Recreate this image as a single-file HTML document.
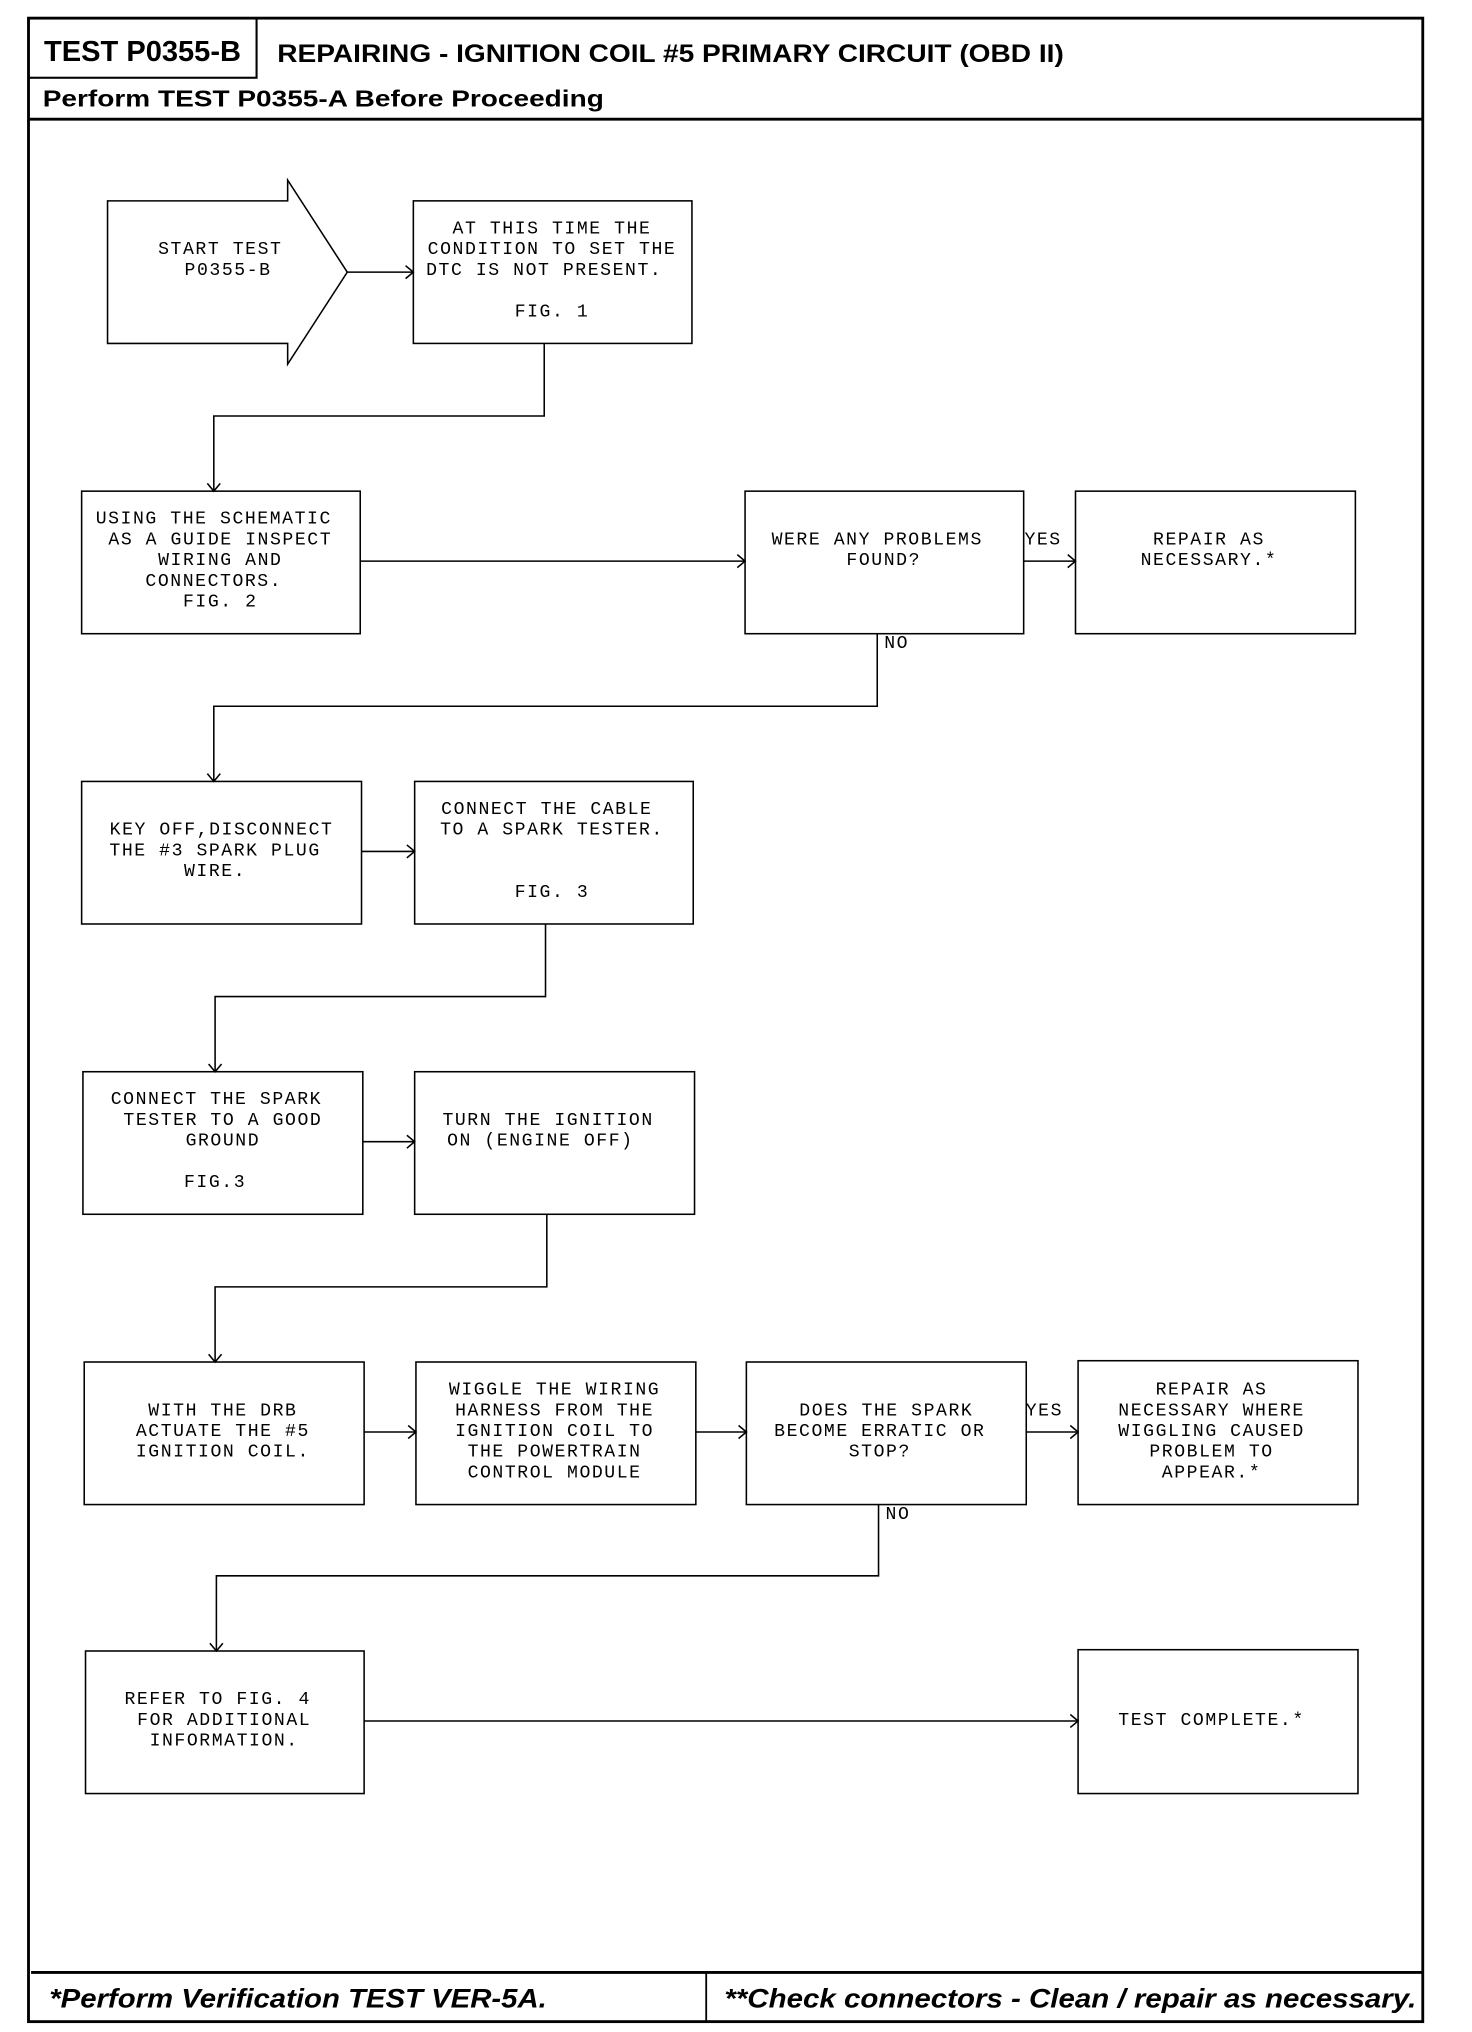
<!DOCTYPE html>
<html><head><meta charset="utf-8"><style>
html,body{margin:0;padding:0;background:#fff;}
svg{display:block;}
.m{font-family:"Liberation Mono","DejaVu Sans Mono",monospace;font-size:14px;letter-spacing:1.2px;text-anchor:middle;dominant-baseline:central;fill:#000;}
.h{font-family:"Liberation Sans",Arial,sans-serif;font-weight:bold;fill:#000;}
</style></head><body>
<svg width="1472" height="2032" viewBox="0 0 1136 1568" preserveAspectRatio="none" xmlns="http://www.w3.org/2000/svg">
<rect width="1136" height="1568" fill="#fff"/>
<g fill="none" stroke="#000">
<rect x="22" y="14" width="1076" height="1546" stroke-width="2.2"/>
<line x1="22" y1="92" x2="1098" y2="92" stroke-width="2.2"/>
<rect x="22" y="14" width="176" height="46" stroke-width="1.6"/>
<line x1="24" y1="1522" x2="1098" y2="1522" stroke-width="2.2"/>
<line x1="545" y1="1522" x2="545" y2="1560" stroke-width="1.4"/>
<g stroke-width="1.2">
<polygon points="83,155 222,155 222,139 268,210 222,281 222,265 83,265"/>
<rect x="319" y="155" width="215" height="110"/>
<rect x="63" y="379" width="215" height="110"/>
<rect x="575" y="379" width="215" height="110"/>
<rect x="830" y="379" width="216" height="110"/>
<rect x="63" y="603" width="216" height="110"/>
<rect x="320" y="603" width="215" height="110"/>
<rect x="64" y="827" width="216" height="110"/>
<rect x="320" y="827" width="216" height="110"/>
<rect x="65" y="1051" width="216" height="110"/>
<rect x="321" y="1051" width="216" height="110"/>
<rect x="576" y="1051" width="216" height="110"/>
<rect x="832" y="1050" width="216" height="111"/>
<rect x="66" y="1274" width="215" height="110"/>
<rect x="832" y="1273" width="216" height="111"/>
<polyline points="268,210 319,210"/><polyline points="313,205 319,210 313,215"/>
<polyline points="420,265 420,321 165,321 165,379"/><polyline points="160,373 165,379 170,373"/>
<polyline points="278,433 575,433"/><polyline points="569,428 575,433 569,438"/>
<polyline points="790,433 830,433"/><polyline points="824,428 830,433 824,438"/>
<polyline points="677,489 677,545 165,545 165,603"/><polyline points="160,597 165,603 170,597"/>
<polyline points="279,657 320,657"/><polyline points="314,652 320,657 314,662"/>
<polyline points="421,713 421,769 166,769 166,827"/><polyline points="161,821 166,827 171,821"/>
<polyline points="280,881 320,881"/><polyline points="314,876 320,881 314,886"/>
<polyline points="422,937 422,993 166,993 166,1051"/><polyline points="161,1045 166,1051 171,1045"/>
<polyline points="281,1105 321,1105"/><polyline points="315,1100 321,1105 315,1110"/>
<polyline points="537,1105 576,1105"/><polyline points="570,1100 576,1105 570,1110"/>
<polyline points="792,1105 832,1105"/><polyline points="826,1100 832,1105 826,1110"/>
<polyline points="678,1161 678,1216 167,1216 167,1274"/><polyline points="162,1268 167,1274 172,1268"/>
<polyline points="281,1328 832,1328"/><polyline points="826,1323 832,1328 826,1333"/>
</g>
</g>
<text class="h" x="34" y="47" font-size="22" textLength="152" lengthAdjust="spacingAndGlyphs">TEST P0355-B</text>
<text class="h" x="214" y="48" font-size="19" textLength="607" lengthAdjust="spacingAndGlyphs">REPAIRING - IGNITION COIL #5 PRIMARY CIRCUIT (OBD II)</text>
<text class="h" x="33" y="82" font-size="18" textLength="433" lengthAdjust="spacingAndGlyphs">Perform TEST P0355-A Before Proceeding</text>
<text class="h" x="38" y="1549" font-size="21" font-style="italic" textLength="384" lengthAdjust="spacingAndGlyphs">*Perform Verification TEST VER-5A.</text>
<text class="h" x="559" y="1549" font-size="21" font-style="italic" textLength="534" lengthAdjust="spacingAndGlyphs">**Check connectors - Clean / repair as necessary.</text>
<text class="m" x="170" y="193">START TEST</text>
<text class="m" x="176" y="209">P0355-B</text>
<text class="m" x="426" y="177">AT THIS TIME THE</text>
<text class="m" x="426" y="193">CONDITION TO SET THE</text>
<text class="m" x="420" y="209">DTC IS NOT PRESENT.</text>
<text class="m" x="426" y="241">FIG. 1</text>
<text class="m" x="165" y="401">USING THE SCHEMATIC</text>
<text class="m" x="170" y="417">AS A GUIDE INSPECT</text>
<text class="m" x="170" y="433">WIRING AND</text>
<text class="m" x="165" y="449">CONNECTORS.</text>
<text class="m" x="170" y="465">FIG. 2</text>
<text class="m" x="677" y="417">WERE ANY PROBLEMS</text>
<text class="m" x="682" y="433">FOUND?</text>
<text class="m" x="805" y="417">YES</text>
<text class="m" x="933" y="417">REPAIR AS</text>
<text class="m" x="933" y="433">NECESSARY.*</text>
<text class="m" x="692" y="497">NO</text>
<text class="m" x="171" y="641">KEY OFF,DISCONNECT</text>
<text class="m" x="166" y="657">THE #3 SPARK PLUG</text>
<text class="m" x="166" y="673">WIRE.</text>
<text class="m" x="422" y="625">CONNECT THE CABLE</text>
<text class="m" x="426" y="641">TO A SPARK TESTER.</text>
<text class="m" x="426" y="689">FIG. 3</text>
<text class="m" x="167" y="849">CONNECT THE SPARK</text>
<text class="m" x="172" y="865">TESTER TO A GOOD</text>
<text class="m" x="172" y="881">GROUND</text>
<text class="m" x="166" y="913">FIG.3</text>
<text class="m" x="423" y="865">TURN THE IGNITION</text>
<text class="m" x="417" y="881">ON (ENGINE OFF)</text>
<text class="m" x="172" y="1089">WITH THE DRB</text>
<text class="m" x="172" y="1105">ACTUATE THE #5</text>
<text class="m" x="172" y="1121">IGNITION COIL.</text>
<text class="m" x="428" y="1073">WIGGLE THE WIRING</text>
<text class="m" x="428" y="1089">HARNESS FROM THE</text>
<text class="m" x="428" y="1105">IGNITION COIL TO</text>
<text class="m" x="428" y="1121">THE POWERTRAIN</text>
<text class="m" x="428" y="1137">CONTROL MODULE</text>
<text class="m" x="684" y="1089">DOES THE SPARK</text>
<text class="m" x="679" y="1105">BECOME ERRATIC OR</text>
<text class="m" x="679" y="1121">STOP?</text>
<text class="m" x="806" y="1089">YES</text>
<text class="m" x="935" y="1073">REPAIR AS</text>
<text class="m" x="935" y="1089">NECESSARY WHERE</text>
<text class="m" x="935" y="1105">WIGGLING CAUSED</text>
<text class="m" x="935" y="1121">PROBLEM TO</text>
<text class="m" x="935" y="1137">APPEAR.*</text>
<text class="m" x="693" y="1169">NO</text>
<text class="m" x="168" y="1312">REFER TO FIG. 4</text>
<text class="m" x="173" y="1328">FOR ADDITIONAL</text>
<text class="m" x="173" y="1344">INFORMATION.</text>
<text class="m" x="935" y="1328">TEST COMPLETE.*</text>
</svg>
</body></html>
